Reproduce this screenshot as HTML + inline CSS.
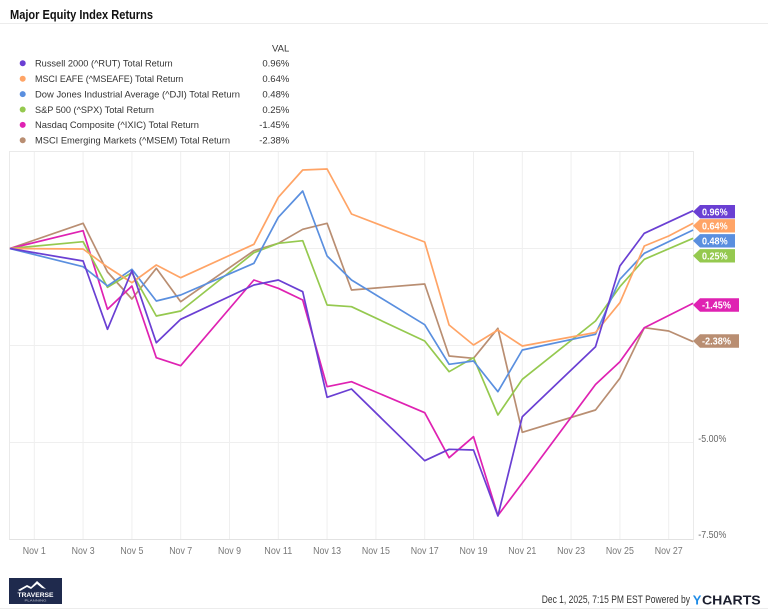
<!DOCTYPE html>
<html><head><meta charset="utf-8"><style>
html,body{margin:0;padding:0;background:#fff;}
svg{display:block;}
text{font-family:"Liberation Sans",sans-serif;}
</style></head><body>
<svg width="768" height="611" viewBox="0 0 768 611" xmlns="http://www.w3.org/2000/svg">
<rect x="0" y="0" width="768" height="611" fill="#fff"/>
<!-- title -->
<text x="10" y="19" font-size="13" font-weight="bold" fill="#111" textLength="143" lengthAdjust="spacingAndGlyphs">Major Equity Index Returns</text>
<line x1="0" y1="23.5" x2="768" y2="23.5" stroke="#ececec" stroke-width="1"/>
<!-- legend -->
<text x="289.3" y="51.6" font-size="9.5" fill="#333" text-anchor="end">VAL</text>
<g font-size="9.5" fill="#333">
<circle cx="22.7" cy="63.3" r="3" fill="#6a3fd3"/>
<text x="35" y="66.6" textLength="137.7" lengthAdjust="spacingAndGlyphs">Russell 2000 (^RUT) Total Return</text>
<text x="289.3" y="66.6" text-anchor="end">0.96%</text>
<circle cx="22.7" cy="78.7" r="3" fill="#ffa466"/>
<text x="35" y="82" textLength="148.3" lengthAdjust="spacingAndGlyphs">MSCI EAFE (^MSEAFE) Total Return</text>
<text x="289.3" y="82" text-anchor="end">0.64%</text>
<circle cx="22.7" cy="94.1" r="3" fill="#5a8fdf"/>
<text x="35" y="97.4" textLength="205" lengthAdjust="spacingAndGlyphs">Dow Jones Industrial Average (^DJI) Total Return</text>
<text x="289.3" y="97.4" text-anchor="end">0.48%</text>
<circle cx="22.7" cy="109.5" r="3" fill="#95c94f"/>
<text x="35" y="112.8" textLength="119" lengthAdjust="spacingAndGlyphs">S&amp;P 500 (^SPX) Total Return</text>
<text x="289.3" y="112.8" text-anchor="end">0.25%</text>
<circle cx="22.7" cy="124.9" r="3" fill="#df22b2"/>
<text x="35" y="128.2" textLength="164" lengthAdjust="spacingAndGlyphs">Nasdaq Composite (^IXIC) Total Return</text>
<text x="289.3" y="128.2" text-anchor="end">-1.45%</text>
<circle cx="22.7" cy="140.3" r="3" fill="#b98e72"/>
<text x="35" y="143.6" textLength="195" lengthAdjust="spacingAndGlyphs">MSCI Emerging Markets (^MSEM) Total Return</text>
<text x="289.3" y="143.6" text-anchor="end">-2.38%</text>
</g>
<!-- grid -->
<g stroke="#efefef" stroke-width="1" fill="none">
<line x1="34.3" y1="151.5" x2="34.3" y2="539.5"/>
<line x1="83.1" y1="151.5" x2="83.1" y2="539.5"/>
<line x1="131.9" y1="151.5" x2="131.9" y2="539.5"/>
<line x1="180.7" y1="151.5" x2="180.7" y2="539.5"/>
<line x1="229.5" y1="151.5" x2="229.5" y2="539.5"/>
<line x1="278.3" y1="151.5" x2="278.3" y2="539.5"/>
<line x1="327.1" y1="151.5" x2="327.1" y2="539.5"/>
<line x1="375.9" y1="151.5" x2="375.9" y2="539.5"/>
<line x1="424.7" y1="151.5" x2="424.7" y2="539.5"/>
<line x1="473.5" y1="151.5" x2="473.5" y2="539.5"/>
<line x1="522.3" y1="151.5" x2="522.3" y2="539.5"/>
<line x1="571.1" y1="151.5" x2="571.1" y2="539.5"/>
<line x1="619.9" y1="151.5" x2="619.9" y2="539.5"/>
<line x1="668.7" y1="151.5" x2="668.7" y2="539.5"/>
<line x1="9.5" y1="248.5" x2="693.5" y2="248.5"/>
<line x1="9.5" y1="345.5" x2="693.5" y2="345.5"/>
<line x1="9.5" y1="442.5" x2="693.5" y2="442.5"/>
<rect x="9.5" y="151.5" width="684" height="388" stroke="#eaeaea"/>
</g>
<line x1="9.5" y1="539.5" x2="693.5" y2="539.5" stroke="#e2e2e2" stroke-width="1"/>
<!-- series -->
<g fill="none" stroke-width="1.7" stroke-linejoin="round">
<polyline stroke="#b98e72" points="9.9,248.5 83.1,223.3 107.5,272 131.9,299 156.3,268.3 180.7,301.7 253.9,250.7 278.3,243.3 302.7,229.3 327.1,223.3 351.5,290 424.7,284 449.1,356 473.5,358.3 497.9,328.3 522.3,432.3 595.5,410 619.9,378.3 644.3,327.7 668.7,331 693.1,341.7"/>
<polyline stroke="#df22b2" points="9.9,248.5 83.1,230.7 107.5,309.3 131.9,286 156.3,357.7 180.7,365.7 253.9,280 278.3,288.3 302.7,300 327.1,386.7 351.5,381.7 424.7,412.7 449.1,457.7 473.5,436.7 497.9,515.5 522.3,483 595.5,384.5 619.9,361.7 644.3,327.7 693.1,303.3"/>
<polyline stroke="#95c94f" points="9.9,248.5 83.1,241.7 107.5,287.3 131.9,272.7 156.3,316 180.7,311 253.9,252.7 278.3,243.3 302.7,240.7 327.1,305 351.5,306.7 424.7,341 449.1,371.7 473.5,357.7 497.9,415 522.3,379.3 595.5,321 619.9,286.7 644.3,259.3 693.1,238.3"/>
<polyline stroke="#5a8fdf" points="9.9,248.5 83.1,266.7 107.5,286 131.9,269.3 156.3,301 180.7,295 253.9,263.3 278.3,217.3 302.7,191 327.1,256 351.5,280 424.7,324.7 449.1,364.3 473.5,361 497.9,391.7 522.3,350 595.5,334.3 619.9,279.3 644.3,253.3 693.1,230"/>
<polyline stroke="#ffa466" points="9.9,248.5 83.1,249 107.5,267 131.9,282.7 156.3,265 180.7,277.7 253.9,244.3 278.3,197.3 302.7,170 327.1,169 351.5,214 424.7,242 449.1,325 473.5,345 497.9,330 522.3,346 595.5,332.5 619.9,302.7 644.3,246 668.7,236 693.1,223.3"/>
<polyline stroke="#6a3fd3" points="9.9,248.5 83.1,261 107.5,329.3 131.9,270.7 156.3,342.7 180.7,319.3 253.9,285 278.3,280 302.7,291.7 327.1,397.3 351.5,389 424.7,460.7 449.1,449.3 473.5,450 497.9,516 522.3,416.7 595.5,346.7 619.9,266 644.3,233.3 693.1,210.7"/>
</g>
<!-- right axis labels -->
<g font-size="10" fill="#666">
<text x="698.3" y="442" textLength="28" lengthAdjust="spacingAndGlyphs">-5.00%</text>
<text x="698.3" y="538" textLength="28" lengthAdjust="spacingAndGlyphs">-7.50%</text>
</g>
<!-- tags -->
<g font-size="10" font-weight="bold" fill="#fff">
<polygon fill="#6a3fd3" points="693,211.7 700,205 735,205 735,218.4 700,218.4"/>
<text x="702" y="215.3" textLength="25.6" lengthAdjust="spacingAndGlyphs">0.96%</text>
<polygon fill="#ffa466" points="693,225.8 700,219.1 735,219.1 735,232.5 700,232.5"/>
<text x="702" y="229.4" textLength="25.6" lengthAdjust="spacingAndGlyphs">0.64%</text>
<polygon fill="#5a8fdf" points="693,240.8 700,234.1 735,234.1 735,247.5 700,247.5"/>
<text x="702" y="244.4" textLength="25.6" lengthAdjust="spacingAndGlyphs">0.48%</text>
<polygon fill="#95c94f" points="693,255.8 700,249.1 735,249.1 735,262.5 700,262.5"/>
<text x="702" y="259.4" textLength="25.6" lengthAdjust="spacingAndGlyphs">0.25%</text>
<polygon fill="#df22b2" points="693,305 700,298.3 739,298.3 739,311.7 700,311.7"/>
<text x="702" y="308.6" textLength="29" lengthAdjust="spacingAndGlyphs">-1.45%</text>
<polygon fill="#b98e72" points="693,341 700,334.3 739,334.3 739,347.7 700,347.7"/>
<text x="702" y="344.6" textLength="29" lengthAdjust="spacingAndGlyphs">-2.38%</text>
</g>
<!-- x labels -->
<g font-size="10.5" fill="#777" text-anchor="middle">
<text x="34.3" y="554" textLength="23" lengthAdjust="spacingAndGlyphs">Nov 1</text>
<text x="83.1" y="554" textLength="23" lengthAdjust="spacingAndGlyphs">Nov 3</text>
<text x="131.9" y="554" textLength="23" lengthAdjust="spacingAndGlyphs">Nov 5</text>
<text x="180.7" y="554" textLength="23" lengthAdjust="spacingAndGlyphs">Nov 7</text>
<text x="229.5" y="554" textLength="23" lengthAdjust="spacingAndGlyphs">Nov 9</text>
<text x="278.3" y="554" textLength="28" lengthAdjust="spacingAndGlyphs">Nov 11</text>
<text x="327.1" y="554" textLength="28" lengthAdjust="spacingAndGlyphs">Nov 13</text>
<text x="375.9" y="554" textLength="28" lengthAdjust="spacingAndGlyphs">Nov 15</text>
<text x="424.7" y="554" textLength="28" lengthAdjust="spacingAndGlyphs">Nov 17</text>
<text x="473.5" y="554" textLength="28" lengthAdjust="spacingAndGlyphs">Nov 19</text>
<text x="522.3" y="554" textLength="28" lengthAdjust="spacingAndGlyphs">Nov 21</text>
<text x="571.1" y="554" textLength="28" lengthAdjust="spacingAndGlyphs">Nov 23</text>
<text x="619.9" y="554" textLength="28" lengthAdjust="spacingAndGlyphs">Nov 25</text>
<text x="668.7" y="554" textLength="28" lengthAdjust="spacingAndGlyphs">Nov 27</text>
</g>
<!-- logo -->
<rect x="9" y="578" width="53" height="26" fill="#1f2a4d"/>
<polygon points="18,590 27,585 31,587 37,581 46,589 42,588 37,584 31,589 27,587 20,591" fill="#fff"/>
<text x="35.5" y="597" font-size="6" font-weight="bold" fill="#fff" text-anchor="middle" textLength="36" lengthAdjust="spacingAndGlyphs">TRAVERSE</text>
<text x="35.5" y="601.5" font-size="3" fill="#c8ccd8" text-anchor="middle" textLength="22" lengthAdjust="spacingAndGlyphs">PLANNING</text>
<!-- footer -->
<text x="541.7" y="603" font-size="11" fill="#333" textLength="148.3" lengthAdjust="spacingAndGlyphs">Dec 1, 2025, 7:15 PM EST Powered by</text>
<text x="692.7" y="604.3" font-size="13" font-weight="bold" fill="#1e8be6">Y</text>
<text x="702" y="604.3" font-size="13" font-weight="bold" fill="#1b1e2e" textLength="58.7" lengthAdjust="spacingAndGlyphs">CHARTS</text>
<line x1="0" y1="608.5" x2="768" y2="608.5" stroke="#ececec" stroke-width="1"/>
</svg>
</body></html>
